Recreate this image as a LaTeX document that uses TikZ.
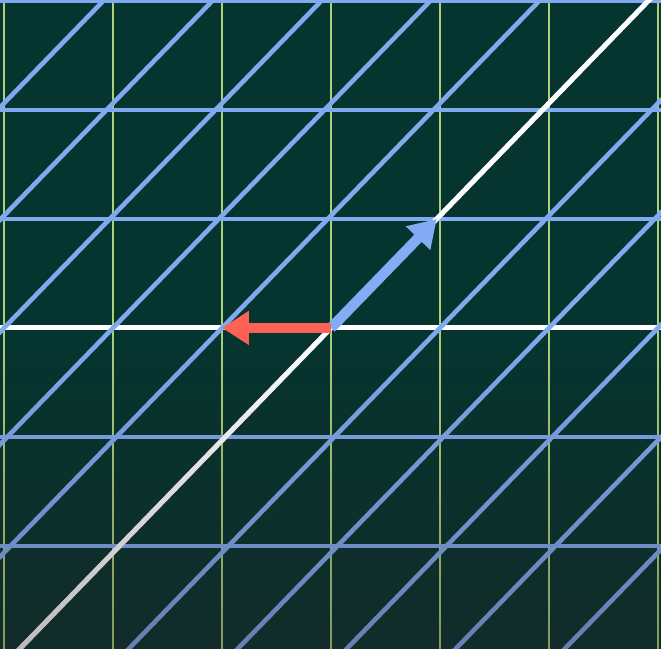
\documentclass[tikz,border=0pt]{standalone}
\usepackage{tikz}
\usetikzlibrary{arrows.meta,fadings}
\definecolor{bgteal}{RGB}{6,53,47}
\definecolor{gridblue}{RGB}{128,170,240}
\definecolor{vecblue}{RGB}{131,172,245}
\definecolor{vecred}{RGB}{252,98,85}
\definecolor{basegreen}{RGB}{170,208,120}
\definecolor{shadegray}{RGB}{45,25,30}
\tikzfading[name=bottomshade,top color=transparent!100,bottom color=transparent!70]

\begin{document}
\begin{tikzpicture}[>={Triangle[length=7pt,width=8.4pt]},
    gridline/.style={gridblue,line width=1.2pt},
    axisline/.style={white,line width=1.3pt},
    bgline/.style={basegreen,line width=0.6pt},
    vec/.style={->,line width=2.7pt}]
  \fill[bgteal] (-3.037,-2.945) rectangle (3.028,3.009);
  \useasboundingbox (-3.037,-2.945) rectangle (3.028,3.009);
  \clip (-3.037,-2.945) rectangle (3.028,3.009);
  % background grid, then the sheared one
  \foreach \x in {-3,...,3}
    \draw[bgline] (\x,-3.1) -- (\x,3.1);
  \foreach \y in {-3,...,3}
    \draw[gridline] (-3.2,\y) -- (3.2,\y);
  \draw[axisline] (-3.2,0) -- (3.2,0);
  \foreach \k in {-7,...,6}
    \draw[gridline] ({\k-0.97*3.1},-3.1) -- ({\k+0.97*3.1},3.1);
  \draw[axisline] ({-0.97*3.1},-3.1) -- ({0.97*3.1},3.1);
  % basis vectors
  \coordinate (o) at (0,0);
  \coordinate (ihat) at (-1,0);
  \coordinate (jhat) at (0.97,1);
  \draw[vec,vecblue] (o) -- (jhat);
  \draw[vec,vecred] (o) -- (ihat);
  \fill[shadegray,path fading=bottomshade] (-3.037,-2.945) rectangle (3.028,0);
\end{tikzpicture}
\end{document}
